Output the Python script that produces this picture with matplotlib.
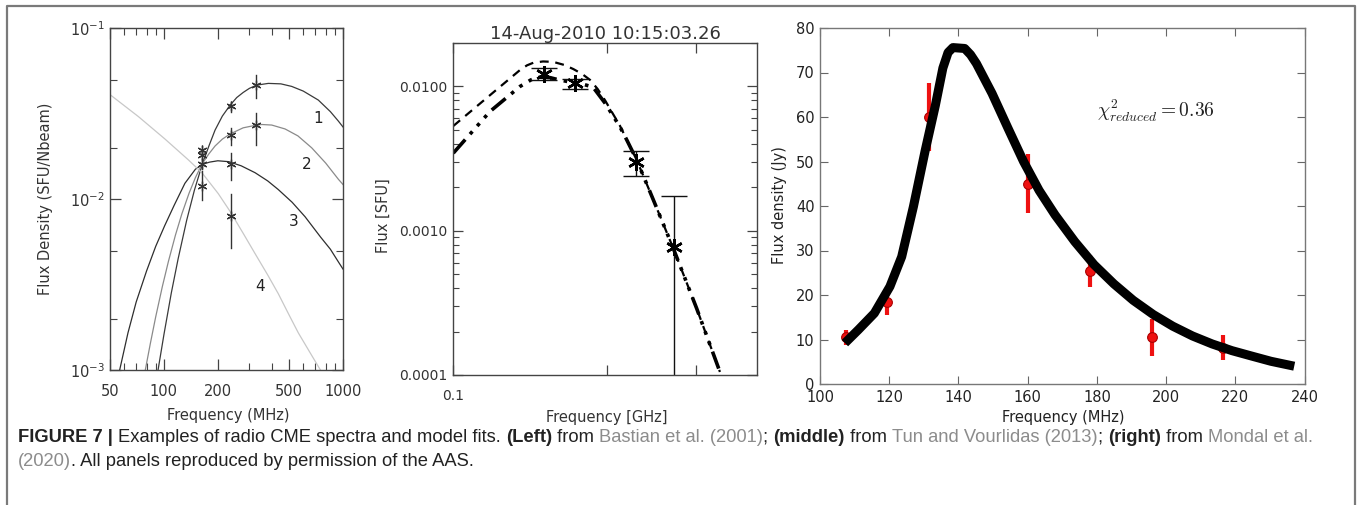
import matplotlib
matplotlib.use("Agg")
import matplotlib.pyplot as plt
from matplotlib.ticker import LogLocator, NullFormatter, FixedLocator, FixedFormatter, MultipleLocator
from matplotlib.lines import Line2D

# ---------------- Left panel data (Bastian et al. 2001) ----------------
left_c1_freq = [92, 100, 110, 120, 134, 148, 164, 178, 193, 212, 234, 255, 277, 300, 330,
                383, 450, 517, 600, 728, 850, 942, 1000]
left_c1_flux = [0.00095, 0.00161, 0.00283, 0.00447, 0.00753, 0.0113, 0.0161, 0.0204, 0.0254,
                0.0307, 0.0355, 0.0394, 0.0422, 0.0446, 0.0466, 0.0477, 0.0474, 0.0458,
                0.0430, 0.0381, 0.0326, 0.0287, 0.0265]
left_c2_freq = [78, 84, 90, 98, 106, 116, 126, 138, 150, 164, 178, 193, 212, 234, 277, 330,
                352, 400, 475, 560, 669, 800, 942, 1000]
left_c2_flux = [0.00095, 0.00143, 0.00205, 0.00308, 0.00433, 0.00617, 0.00822, 0.01081,
                0.0134, 0.0162, 0.0184, 0.0205, 0.0225, 0.0241, 0.0262, 0.0272, 0.0274,
                0.0272, 0.0258, 0.0235, 0.0200, 0.0163, 0.0131, 0.0122]
left_c3_freq = [56, 63, 70, 80, 90, 101, 114, 131, 150, 164, 180, 200, 230, 270, 323, 380,
                435, 520, 614, 750, 850, 942, 1000]
left_c3_flux = [0.00095, 0.00165, 0.0025, 0.0038, 0.0053, 0.0070, 0.0092, 0.0124, 0.0150,
                0.0160, 0.0165, 0.0168, 0.0166, 0.0157, 0.0143, 0.0128, 0.0114, 0.0096,
                0.0079, 0.0060, 0.0051, 0.0043, 0.0039]
left_c4_freq = [50, 72, 101, 137, 163, 201, 234, 280, 323, 380, 435, 500, 563, 650, 761]
left_c4_flux = [0.0410, 0.0305, 0.0226, 0.0170, 0.0143, 0.0108, 0.0085, 0.0062, 0.0048,
                0.0036, 0.0028, 0.0021, 0.00165, 0.00128, 0.00097]
left_star_freq = [164, 164, 164, 164, 236.6, 236.6, 236.6, 236.6, 327, 327]
left_star_flux = [0.0194, 0.0182, 0.0161, 0.0120, 0.0352, 0.0238, 0.0161, 0.0080, 0.0467, 0.0272]
left_star_lo = [0.0183, 0.0172, 0.0150, 0.0099, 0.0326, 0.0208, 0.0130, 0.0052, 0.0390, 0.0208]
left_star_hi = [0.0205, 0.0193, 0.0172, 0.0146, 0.0373, 0.0260, 0.0186, 0.0108, 0.0534, 0.0319]
left_curve_labels = ["1", "2", "3", "4"]
left_label_freq = [728, 627, 528, 344]
left_label_flux = [0.0298, 0.0159, 0.0074, 0.0031]

# ---------------- Middle panel data (Tun & Vourlidas 2013) ----------------
mid_dash_freq = [0.1, 0.118, 0.1352, 0.1395, 0.1436, 0.150, 0.1571, 0.165, 0.172, 0.179,
                 0.1855, 0.192, 0.1986, 0.205, 0.2123, 0.219, 0.2291, 0.247, 0.2702,
                 0.3003, 0.3337]
mid_dash_flux = [0.00532, 0.00869, 0.0130, 0.0140, 0.0146, 0.0149, 0.0148, 0.0141, 0.0132,
                 0.0122, 0.0111, 0.0096, 0.0080, 0.0066, 0.00535, 0.00428, 0.00309,
                 0.001634, 0.000756, 0.00029, 0.000105]
mid_dd_freq = [0.1, 0.118, 0.1352, 0.142, 0.148, 0.155, 0.1596, 0.168, 0.1773, 0.188,
               0.1986, 0.2123, 0.219, 0.2291, 0.247, 0.2702, 0.3003, 0.3337]
mid_dd_flux = [0.00345, 0.0067, 0.0100, 0.0111, 0.0116, 0.0115, 0.0112, 0.0108, 0.0105,
               0.00990, 0.00765, 0.00526, 0.00426, 0.00309, 0.001634, 0.000756, 0.00029,
               0.000105]
mid_pt_freq = [0.1509, 0.1732, 0.228, 0.2706]
mid_pt_flux = [0.01221, 0.01052, 0.00301, 0.000775]
mid_pt_lo = [0.0111, 0.00956, 0.00241, 0.00001]
mid_pt_hi = [0.0135, 0.0112, 0.00359, 0.00175]
mid_title = "14-Aug-2010 10:15:03.26"

# ---------------- Right panel data (Mondal et al. 2020) ----------------
right_freq = [107.5, 119.5, 131.5, 160, 178, 196, 216.5]
right_flux = [10.5, 18.5, 60.0, 45.0, 25.3, 10.5, 8.2]
right_err = [1.7, 3.1, 7.7, 6.6, 3.6, 4.2, 2.9]
fit_freq = [107.2, 111.1, 115.7, 120.2, 123.6, 127.0, 130.4, 133.3, 135.5, 137.0, 138.4,
            141.8, 143.5, 145.2, 149.7, 154.3, 158.8, 163.3, 167.9, 173.6, 179.2, 184.9,
            190.5, 196.3, 201.9, 207.6, 213.3, 219.0, 224.6, 230.3, 237.0]
fit_flux = [9.2, 12.2, 15.9, 21.9, 28.6, 39.9, 52.5, 62.5, 71.0, 74.5, 75.6, 75.4, 74.0,
            72.0, 65.3, 57.5, 50.0, 43.5, 38.0, 32.0, 26.8, 22.5, 18.8, 15.6, 13.0, 10.8,
            9.0, 7.5, 6.3, 5.1, 4.0]

# ---------------- Caption ----------------
cap_line1 = [("FIGURE 7 | ", "bold", "#222222"),
             ("Examples of radio CME spectra and model fits. ", "normal", "#222222"),
             ("(Left)", "bold", "#222222"), (" from ", "normal", "#222222"),
             ("Bastian et al. (2001)", "normal", "#8c8c8c"), ("; ", "normal", "#222222"),
             ("(middle)", "bold", "#222222"), (" from ", "normal", "#222222"),
             ("Tun and Vourlidas (2013)", "normal", "#8c8c8c"), ("; ", "normal", "#222222"),
             ("(right)", "bold", "#222222"), (" from ", "normal", "#222222"),
             ("Mondal et al.", "normal", "#8c8c8c")]
cap_line2 = [("(2020)", "normal", "#8c8c8c"),
             (". All panels reproduced by permission of the AAS.", "normal", "#222222")]

W, H = 1357, 505
fig = plt.figure(figsize=(W / 100, H / 100), dpi=100)


def px_axes(x0, y0, x1, y1):
    return fig.add_axes([x0 / W, 1 - y1 / H, (x1 - x0) / W, (y1 - y0) / H])


# figure border (top, left, right)
fig.add_artist(Line2D([7 / W, 7 / W, 1355 / W, 1355 / W], [-0.05, 1 - 6 / H, 1 - 6 / H, -0.05],
                      transform=fig.transFigure, color="#7a7a7a", lw=1.6))

# ======================= LEFT =======================
axL = px_axes(110, 28.5, 343, 370)
dk = "#333333"
axL.plot(left_c1_freq, left_c1_flux, color="#3a3a3a", lw=0.9)
axL.plot(left_c2_freq, left_c2_flux, color="#8a8a8a", lw=0.9)
axL.plot(left_c3_freq, left_c3_flux, color="#2e2e2e", lw=0.9)
axL.plot(left_c4_freq, left_c4_flux, color="#c8c8c8", lw=0.9)
for f, lo, hi in zip(left_star_freq, left_star_lo, left_star_hi):
    axL.plot([f, f], [lo, hi], color=dk, lw=1.0)
axL.plot(left_star_freq, left_star_flux, ls="none", marker=(6, 2, 0), ms=7, mew=0.9, color=dk)
for t, f, v in zip(left_curve_labels, left_label_freq, left_label_flux):
    axL.text(f, v, t, fontsize=11, color="#222222", ha="center", va="center")
axL.set_xscale("log")
axL.set_yscale("log")
axL.set_xlim(50, 1000)
axL.set_ylim(1e-3, 1e-1)
axL.xaxis.set_major_locator(FixedLocator([50, 100, 200, 500, 1000]))
axL.xaxis.set_major_formatter(FixedFormatter(["50", "100", "200", "500", "1000"]))
axL.xaxis.set_minor_locator(FixedLocator([60, 70, 80, 90, 300, 400, 600, 700, 800, 900]))
axL.xaxis.set_minor_formatter(NullFormatter())
axL.yaxis.set_major_locator(LogLocator(base=10, numticks=10))
axL.yaxis.set_minor_locator(LogLocator(base=10, subs=(2.0, 5.0), numticks=10))
axL.yaxis.set_minor_formatter(NullFormatter())
axL.tick_params(which="both", direction="in", top=True, right=True, colors="#444444",
                labelcolor="#333333", labelsize=10.5)
axL.tick_params(axis="x", which="both", pad=10)
axL.tick_params(which="major", length=8, width=0.9)
axL.tick_params(which="minor", length=5, width=0.8)
for s in axL.spines.values():
    s.set_color("#444444")
    s.set_linewidth(1.0)
axL.set_xlabel("Frequency (MHz)", fontsize=10.5, color="#333333")
axL.set_ylabel("Flux Density (SFU/Nbeam)", fontsize=10.5, color="#333333")
axL.xaxis.set_label_coords(0.506, -0.111)
axL.yaxis.set_label_coords(-0.245, 0.5)

# ======================= MIDDLE =======================
axM = px_axes(453.3, 42.7, 756.7, 375)
axM.plot(mid_dash_freq, mid_dash_flux, color="black", lw=1.6, ls=(0, (4, 3)))
axM.plot(mid_dd_freq, mid_dd_flux, color="black", lw=2.6, ls=(0, (5, 2, 1, 2, 1, 2, 1, 2)))
axM.errorbar(mid_pt_freq, mid_pt_flux,
             yerr=[[v - lo for v, lo in zip(mid_pt_flux, mid_pt_lo)],
                   [hi - v for v, hi in zip(mid_pt_flux, mid_pt_hi)]],
             fmt="none", ecolor="#111111", elinewidth=1.0, capsize=9.5, capthick=1.0)
axM.plot(mid_pt_freq, mid_pt_flux, ls="none", marker=(6, 2, 0), ms=12, mew=1.8, color="black")
axM.set_xscale("log")
axM.set_yscale("log")
axM.set_xlim(0.1, 0.394)
axM.set_ylim(1e-4, 0.0201)
axM.xaxis.set_major_locator(FixedLocator([0.1, 0.2, 0.3]))
axM.xaxis.set_major_formatter(FixedFormatter(["0.1", "", ""]))
axM.xaxis.set_minor_locator(FixedLocator([]))
axM.yaxis.set_major_locator(FixedLocator([1e-4, 1e-3, 1e-2]))
axM.yaxis.set_major_formatter(FixedFormatter(["0.0001", "0.0010", "0.0100"]))
axM.yaxis.set_minor_locator(LogLocator(base=10, subs=tuple(range(2, 10)), numticks=10))
axM.yaxis.set_minor_formatter(NullFormatter())
axM.tick_params(which="both", direction="in", top=True, right=True, colors="#444444",
                labelcolor="#333333", labelsize=10)
axM.tick_params(axis="x", pad=10)
axM.tick_params(axis="y", pad=4)
axM.tick_params(which="major", length=7, width=0.9)
axM.tick_params(which="minor", length=4, width=0.8)
for s in axM.spines.values():
    s.set_color("#444444")
    s.set_linewidth(1.0)
axM.set_title(mid_title, fontsize=13, color="#333333", y=1.0, pad=3)
axM.set_xlabel("Frequency [GHz]", fontsize=10.5, color="#333333")
axM.set_ylabel("Flux [SFU]", fontsize=10.5, color="#333333")
axM.xaxis.set_label_coords(0.505, -0.105)
axM.yaxis.set_label_coords(-0.205, 0.48)

# ======================= RIGHT =======================
axR = px_axes(820, 28, 1304.6, 384)
axR.errorbar(right_freq, right_flux, yerr=right_err, fmt="none", ecolor="#ee1111",
             elinewidth=3.0, capsize=0, zorder=2)
axR.plot(right_freq, right_flux, ls="none", marker="o", ms=7, mfc="#ee1111", mec="#aa0000",
         mew=0.8, zorder=3)
axR.plot(fit_freq, fit_flux, color="black", lw=6.5, solid_capstyle="butt",
         solid_joinstyle="round", zorder=4)
axR.text(180, 61.3, r"$\chi^2_{reduced}=0.36$", fontsize=14, math_fontfamily="cm",
         ha="left", va="center", color="#222222")
axR.set_xlim(100, 240)
axR.set_ylim(0, 80)
axR.xaxis.set_major_locator(MultipleLocator(20))
axR.yaxis.set_major_locator(MultipleLocator(10))
axR.tick_params(which="both", direction="in", top=True, right=True, colors="#666666",
                labelcolor="#222222", labelsize=10.5, length=6, width=0.8, pad=4)
for s in axR.spines.values():
    s.set_color("#777777")
    s.set_linewidth(1.0)
axR.set_xlabel("Frequency (MHz)", fontsize=10.5, color="#222222")
axR.set_ylabel("Flux density (Jy)", fontsize=10.5, color="#222222")
axR.xaxis.set_label_coords(0.501, -0.073)
axR.yaxis.set_label_coords(-0.068, 0.503)

# ======================= CAPTION =======================
renderer = fig.canvas.get_renderer()
cap_font = "Liberation Sans"


def piece_width(txt, weight, size):
    t1 = fig.text(0, 0, "|" + txt + "|", fontsize=size, fontweight=weight, family=cap_font)
    t2 = fig.text(0, 0, "||", fontsize=size, fontweight=weight, family=cap_font)
    w = t1.get_window_extent(renderer).width - t2.get_window_extent(renderer).width
    t1.remove()
    t2.remove()
    return w


base = 10.0
total = sum(piece_width(t, w, base) for t, w, c in cap_line1)
size = base * 1300.0 / total


def draw_line(pieces, x0, y):
    x = x0
    for t, w, c in pieces:
        fig.text(x / W, 1 - y / H, t, fontsize=size, fontweight=w, color=c, family=cap_font,
                 ha="left", va="center")
        x += piece_width(t, w, size)


draw_line(cap_line1, 18, 437)
draw_line(cap_line2, 18, 462)

fig.savefig("out.png", dpi=100)
